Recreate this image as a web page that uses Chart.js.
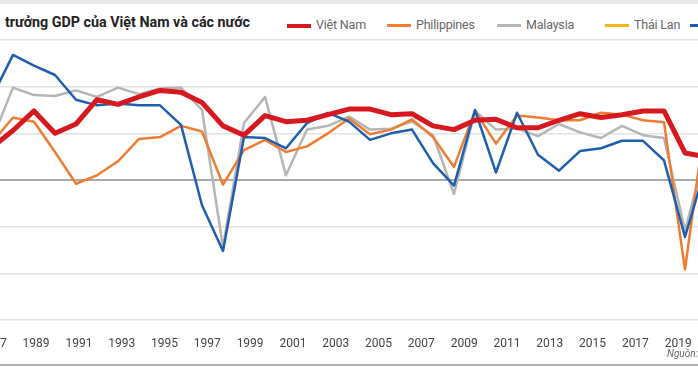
<!DOCTYPE html>
<html>
<head>
<meta charset="utf-8">
<script src="https://cdn.jsdelivr.net/npm/chart.js@4.4.1/dist/chart.umd.min.js"></script>
<style>
  html, body { margin: 0; padding: 0; background: #fff; }
  #wrap { position: relative; width: 698px; height: 367px; overflow: hidden; font-family: Roboto, "Noto Sans", sans-serif; }
  #topband { position: absolute; left: 0; top: 0; width: 698px; height: 4px; background: #e8e8e8; }
  #titleclip { position: absolute; left: 2px; top: 13px; width: 248px; height: 20px; overflow: hidden; }
  #title { position: absolute; right: 0; top: 1px; white-space: nowrap; font-weight: bold; font-size: 14.3px; color: #222; }
  .leg { position: absolute; top: 17px; font-size: 12.5px; letter-spacing: -0.2px; color: #666; white-space: nowrap; line-height: 16px; }
  .leg i { display: inline-block; width: 24px; height: 3px; vertical-align: middle; margin-right: 5px; }
  #src { position: absolute; right: 0; top: 348px; font-style: italic; font-size: 10px; color: #666; }
  #bottomline { position: absolute; left: 0; top: 364px; width: 698px; height: 2px; background: #b0b0b0; }
  #chartbox { position: absolute; left: -40px; top: 0; }
</style>
</head>
<body>
<div id="wrap">
  <div id="topband"></div>
  <div id="titleclip"><div id="title">Tăng trưởng GDP của Việt Nam và các nước</div></div>
  <div class="leg" style="left:287px"><i style="background:#d7191f;height:4px"></i>Việt Nam</div>
  <div class="leg" style="left:387px"><i style="background:#ef7d31"></i>Philippines</div>
  <div class="leg" style="left:497px"><i style="background:#b5b5b5"></i>Malaysia</div>
  <div class="leg" style="left:605px"><i style="background:#f7b418"></i>Thái Lan</div>
  <div class="leg" style="left:690px"><i style="background:#1d5fae"></i>Indonesia</div>
  <div id="chartbox"><canvas id="gdpChart" width="760" height="367"></canvas></div>
  <div id="src">Nguồn:</div>
  <div id="bottomline"></div>
</div>
<script>
// years 1987 - 2021 (chart is cropped on both sides)
const years = [];
for (let y = 1987; y <= 2021; y++) years.push(y);
// axis labels, every other year
const tickYears = [1987, 1989, 1991, 1993, 1995, 1997, 1999, 2001, 2003,
  2005, 2007, 2009, 2011, 2013, 2015, 2017, 2019];

// GDP growth, %
const vietnam = [3.5, 5.3, 7.4, 5.0, 6.0, 8.6, 8.1, 8.9, 9.6, 9.4,
  8.3, 5.8, 4.8, 6.9, 6.25, 6.4, 7.0, 7.6, 7.6, 7.0,
  7.1, 5.8, 5.4, 6.4, 6.5, 5.6, 5.6, 6.4, 7.1, 6.7,
  7.0, 7.4, 7.4, 2.9, 2.5];
const philippines = [4.0, 6.7, 6.25, 3.0, -0.4, 0.5, 2.0, 4.4, 4.6, 5.8,
  5.2, -0.5, 3.2, 4.3, 3.0, 3.6, 5.0, 6.6, 4.9, 5.4,
  6.5, 4.6, 1.4, 7.4, 3.9, 6.9, 6.7, 6.4, 6.4, 7.2,
  7.0, 6.4, 6.2, -9.6, 7.0];
const malaysia = [4.3, 9.9, 9.1, 9.0, 9.6, 8.9, 9.9, 9.2, 9.8, 9.9,
  7.5, -7.2, 6.1, 8.9, 0.5, 5.4, 5.8, 6.8, 5.4, 5.5,
  6.25, 4.8, -1.5, 7.4, 5.4, 5.5, 4.7, 6.0, 5.1, 4.5,
  5.8, 4.8, 4.5, -5.4, 3.1];
const thaiLan = []; // no line visible for this legend entry
const indonesia = [8.9, 13.4, 12.25, 11.25, 8.6, 8.0, 8.2, 8.0, 8.0, 5.9,
  -2.7, -7.6, 4.6, 4.5, 3.4, 6.1, 7.2, 6.25, 4.3, 5.0,
  5.4, 1.8, -0.6, 7.5, 0.8, 7.2, 2.7, 1.0, 3.1, 3.4,
  4.2, 4.2, 2.1, -6.1, 1.5];

const ctx = document.getElementById('gdpChart');

new Chart(ctx, {
  type: 'line',
  data: {
    labels: years,
    datasets: [
      { label: 'Việt Nam', data: vietnam, borderColor: '#d7191f', borderWidth: 5, order: 0 },
      { label: 'Indonesia', data: indonesia, borderColor: '#1d5fae', borderWidth: 2.5, order: 1 },
      { label: 'Thái Lan', data: thaiLan, borderColor: '#f7b418', borderWidth: 2.5, order: 2 },
      { label: 'Philippines', data: philippines, borderColor: '#ef7d31', borderWidth: 2.5, order: 3 },
      { label: 'Malaysia', data: malaysia, borderColor: '#b5b5b5', borderWidth: 2.5, order: 4 }
    ]
  },
  options: {
    responsive: false,
    animation: false,
    layout: { padding: { left: 32, right: 14, top: 40, bottom: 0 } },
    plugins: { legend: { display: false }, tooltip: { enabled: false } },
    elements: {
      point: { radius: 0 },
      line: { tension: 0, borderJoinStyle: 'round', fill: false }
    },
    scales: {
      // data axis (hidden)
      x: { display: false },
      // label axis, the year labels sit a little wider than the points
      xl: {
        type: 'linear',
        position: 'bottom',
        min: 1986.94,
        max: 2020.3,
        grid: { display: false },
        border: { display: false },
        afterBuildTicks: s => { s.ticks = tickYears.map(v => ({ value: v })); },
        ticks: {
          autoSkip: false,
          maxRotation: 0,
          padding: 9,
          color: '#444',
          font: { size: 12, family: 'Roboto' },
          callback: v => String(v)
        },
        afterFit: s => { s.height = 47; }
      },
      y: {
        min: -15,
        max: 15,
        ticks: { display: false, stepSize: 5 },
        border: { display: false },
        grid: {
          drawTicks: false,
          color: c => (c.tick.value === 0 ? '#a9a9a9' : '#e2e2e2'),
          lineWidth: c => (c.tick.value === 0 ? 2 : 1.5)
        },
        afterFit: s => { s.width = 0; }
      }
    }
  }
});
</script>
</body>
</html>
